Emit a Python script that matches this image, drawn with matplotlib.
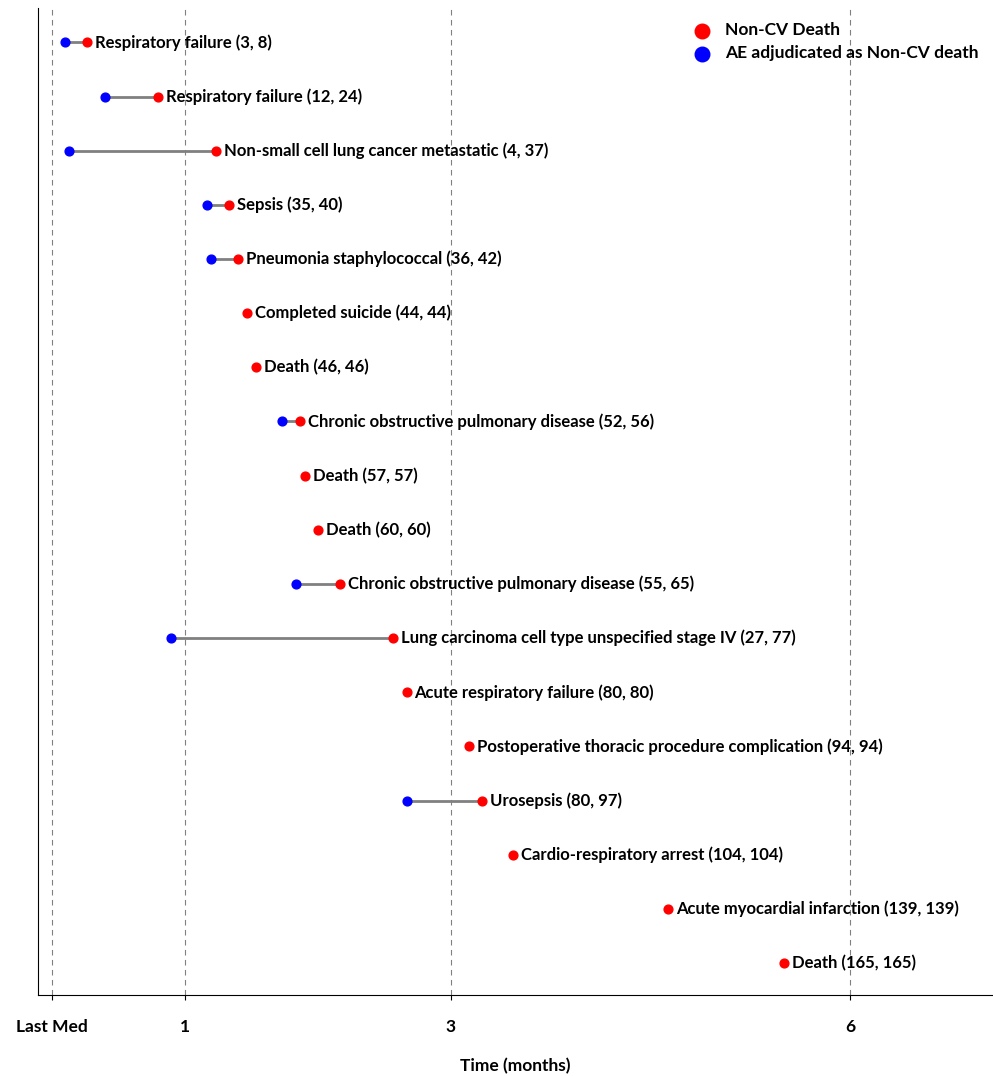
import matplotlib.pyplot as plt

plt.rcParams['font.family'] = ['Lato', 'DejaVu Sans']
plt.rcParams['font.weight'] = 'bold'

events = ['Respiratory failure', 'Respiratory failure', 'Non-small cell lung cancer metastatic',
          'Sepsis', 'Pneumonia staphylococcal', 'Completed suicide', 'Death',
          'Chronic obstructive pulmonary disease', 'Death', 'Death',
          'Chronic obstructive pulmonary disease', 'Lung carcinoma cell type unspecified stage IV',
          'Acute respiratory failure', 'Postoperative thoracic procedure complication',
          'Urosepsis', 'Cardio-respiratory arrest', 'Acute myocardial infarction', 'Death']
ae_day = [3, 12, 4, 35, 36, 44, 46, 52, 57, 60, 55, 27, 80, 94, 80, 104, 139, 165]
death_day = [8, 24, 37, 40, 42, 44, 46, 56, 57, 60, 65, 77, 80, 94, 97, 104, 139, 165]
tick_days = [0, 30, 90, 180]
tick_labels = ['Last Med', '1', '3', '6']

fig = plt.figure(figsize=(9.93, 10.76), dpi=100)
ax = fig.add_axes([0.038, 0.0753, 0.961, 0.917])

for i, (a, d, name) in enumerate(zip(ae_day, death_day, events)):
    y = i
    if a != d:
        ax.plot([a, d], [y, y], color='grey', lw=2, zorder=1)
        ax.scatter(a, y, color='blue', s=40, zorder=2)
    ax.scatter(d, y, color='red', s=40, zorder=3)
    ax.text(d + 1.8, y, f'{name} ({a}, {d})', va='center', ha='left', fontsize=12, fontweight='bold')

ax.scatter([], [], color='red', s=110, label='Non-CV Death')
ax.scatter([], [], color='blue', s=110, label='AE adjudicated as Non-CV death')
ax.legend(loc='upper right', frameon=False, fontsize=12.5, handletextpad=0.3, borderaxespad=0.4,
          labelspacing=0.4)

for t in tick_days:
    ax.axvline(t, color='grey', ls=(0, (5, 4)), lw=0.8, zorder=0)

ax.set_xlim(-3.16, 212.0)
ax.set_ylim(17.59, -0.63)
ax.set_yticks([])
ax.set_xticks(tick_days)
ax.set_xticklabels(tick_labels, fontsize=12.5, fontweight='bold')
ax.tick_params(axis='x', pad=14)
ax.set_xlabel('Time (months)', fontsize=12.5, fontweight='bold', labelpad=16)
for s in ['top', 'right']:
    ax.spines[s].set_visible(False)

plt.savefig('out.png')
